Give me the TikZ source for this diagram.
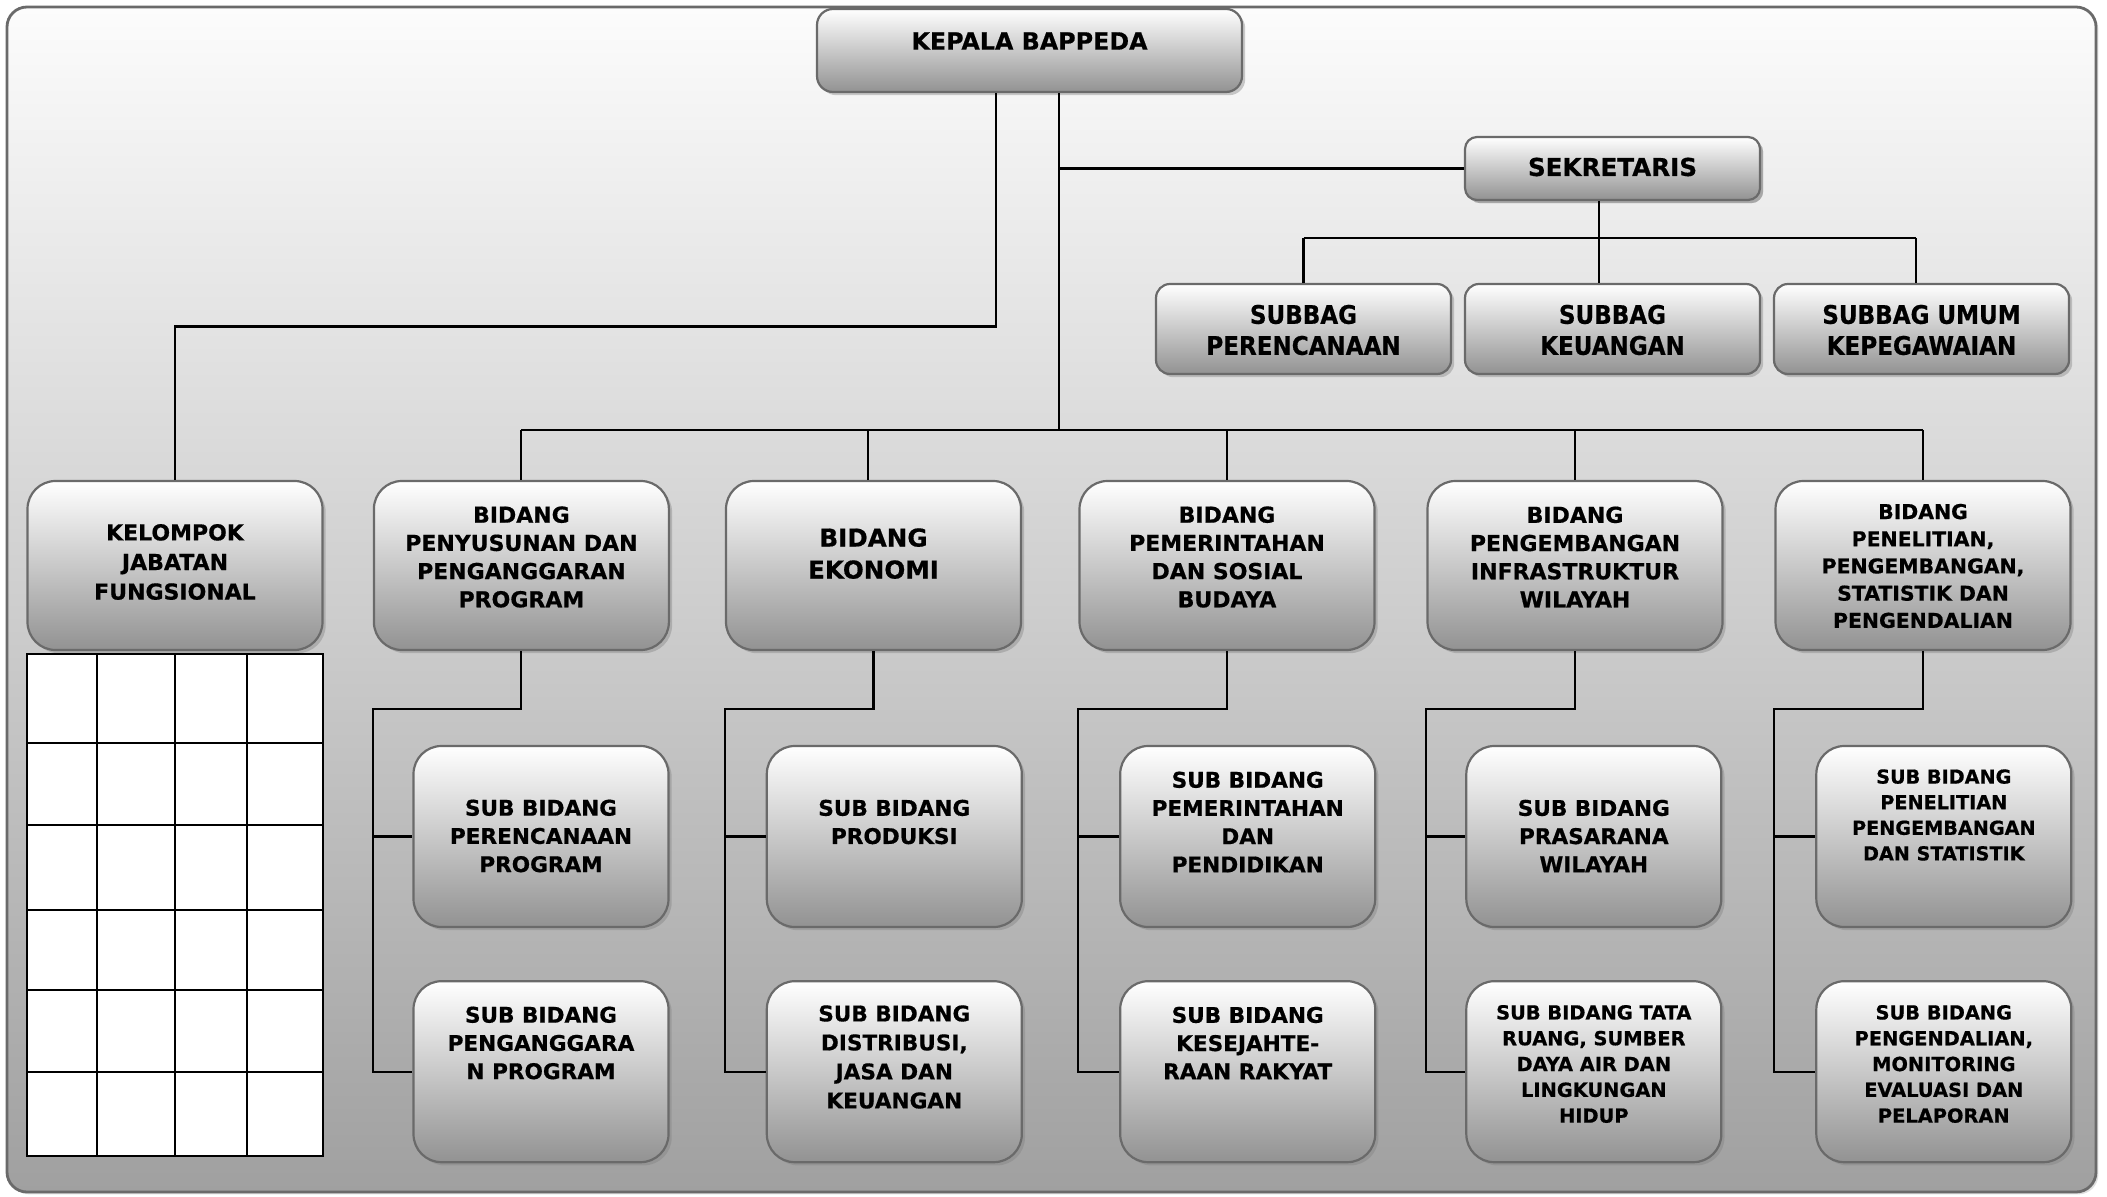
\documentclass[tikz,border=0pt]{standalone}
\usepackage{fontspec}
\setmainfont{DejaVu Sans}[BoldFeatures={FakeBold=0.6}]
\newfontfamily\condfont{DejaVu Sans Condensed}[BoldFeatures={FakeBold=0.6}]
\usetikzlibrary{shadows}
\definecolor{boxbot}{HTML}{929292}
\definecolor{boxedge}{HTML}{6A6A6A}
\definecolor{bgtop}{HTML}{FCFCFC}
\definecolor{bgbot}{HTML}{A0A0A0}
\newcommand\fsz[2]{\fontsize{#1}{#2}\selectfont\bfseries}
\newcommand\cfsz[2]{\condfont\fontsize{#1}{#2}\selectfont\bfseries}
\tikzset{
  obox/.style={rounded corners=#1, draw=boxedge, line width=1.1pt,
    top color=white, bottom color=boxbot, inner sep=0pt,
    drop shadow={shadow xshift=1.6pt, shadow yshift=-1.6pt, opacity=0.4}},
  obox/.default=6pt,
  topbox/.style={obox=8pt},
  bidbox/.style={obox=14pt, minimum width=147.5pt, minimum height=84.5pt},
  subbox/.style={obox=14pt, minimum width=127.5pt, minimum height=90.5pt},
  sbbox/.style={obox=7pt, minimum width=147.5pt, minimum height=45pt},
  txt/.style={align=center, inner sep=0pt, text=black},
  conn/.style={draw=black, line width=1.05pt},
  gridline/.style={draw=black, line width=1.05pt}
}
\begin{document}
\begin{tikzpicture}[x=0.5pt, y=-0.5pt]
\useasboundingbox (0,0) rectangle (2107,1197);
% background panel
\draw[rounded corners=10pt, draw=boxedge, line width=1.4pt, top color=bgtop, bottom color=bgbot,
  drop shadow={shadow xshift=1.2pt, shadow yshift=-1.2pt, opacity=0.25}]
  (7,7) rectangle (2096,1192);

% boxes
\node[topbox, minimum width=212.5pt, minimum height=41.5pt] (kepala) at (1029.5,50.5) {};
\node[topbox, obox=6pt, minimum width=147.5pt, minimum height=31.5pt] (sek) at (1612.5,168.5) {};
\node[sbbox] (sbA) at (1303.5,329) {};
\node[sbbox] (sbB) at (1612.5,329) {};
\node[sbbox] (sbC) at (1921.5,329) {};

\node[bidbox] (kel) at (175,565.5) {};
\node[bidbox] (bid1) at (521.4,565.5) {};
\node[bidbox] (bid2) at (873.5,565.5) {};
\node[bidbox] (bid3) at (1227,565.5) {};
\node[bidbox] (bid4) at (1575,565.5) {};
\node[bidbox] (bid5) at (1923,565.5) {};

\node[subbox] (s11) at (541,836.5) {};
\node[subbox] (s12) at (541,1071.7) {};
\node[subbox] (s21) at (894.3,836.5) {};
\node[subbox] (s22) at (894.3,1071.7) {};
\node[subbox] (s31) at (1247.7,836.5) {};
\node[subbox] (s32) at (1247.7,1071.7) {};
\node[subbox] (s41) at (1593.8,836.5) {};
\node[subbox] (s42) at (1593.8,1071.7) {};
\node[subbox] (s51) at (1943.8,836.5) {};
\node[subbox] (s52) at (1943.8,1071.7) {};

% texts
\node[txt, font=\fsz{11.9pt}{14pt}] (kepala-t) at (1029.5,41) {KEPALA BAPPEDA};
\node[txt, font=\fsz{12.3pt}{15pt}] (sek-t) at (1612.5,167) {SEKRETARIS};
\node[txt, font=\cfsz{12.8pt}{15.5pt}] (sbA-t) at (1303.5,330) {SUBBAG\\PERENCANAAN};
\node[txt, font=\cfsz{12.8pt}{15.5pt}] (sbB-t) at (1612.5,330) {SUBBAG\\KEUANGAN};
\node[txt, font=\cfsz{12.8pt}{15.5pt}] (sbC-t) at (1921.5,330) {SUBBAG UMUM\\KEPEGAWAIAN};

\node[txt, font=\fsz{11pt}{14.8pt}] (kel-t) at (175,562) {KELOMPOK\\JABATAN\\FUNGSIONAL};
\node[txt, font=\fsz{11pt}{14.1pt}] (bid1-t) at (521.4,557) {BIDANG\\PENYUSUNAN DAN\\PENGANGGARAN\\PROGRAM};
\node[txt, font=\fsz{12.3pt}{16pt}] (bid2-t) at (873.5,553.6) {BIDANG\\EKONOMI};
\node[txt, font=\fsz{11pt}{14.1pt}] (bid3-t) at (1227,557) {BIDANG\\PEMERINTAHAN\\DAN SOSIAL\\BUDAYA};
\node[txt, font=\fsz{11pt}{14.1pt}] (bid4-t) at (1575,557) {BIDANG\\PENGEMBANGAN\\INFRASTRUKTUR\\WILAYAH};
\node[txt, font=\fsz{10.2pt}{13.6pt}] (bid5-t) at (1923,566) {BIDANG\\PENELITIAN,\\PENGEMBANGAN,\\STATISTIK DAN\\PENGENDALIAN};

\node[txt, font=\fsz{10.8pt}{14.1pt}] (s11-t) at (541,836) {SUB BIDANG\\PERENCANAAN\\PROGRAM};
\node[txt, font=\fsz{10.8pt}{14.1pt}] (s12-t) at (541,1043) {SUB BIDANG\\PENGANGGARA\\N PROGRAM};
\node[txt, font=\fsz{10.8pt}{14.1pt}] (s21-t) at (894.3,822) {SUB BIDANG\\PRODUKSI};
\node[txt, font=\fsz{10.8pt}{14.5pt}] (s22-t) at (894.3,1057) {SUB BIDANG\\DISTRIBUSI,\\JASA DAN\\KEUANGAN};
\node[txt, font=\fsz{10.8pt}{14.1pt}] (s31-t) at (1247.7,822) {SUB BIDANG\\PEMERINTAHAN\\DAN\\PENDIDIKAN};
\node[txt, font=\fsz{10.8pt}{14.1pt}] (s32-t) at (1247.7,1043) {SUB BIDANG\\KESEJAHTE-\\RAAN RAKYAT};
\node[txt, font=\fsz{10.8pt}{14.1pt}] (s41-t) at (1593.8,836) {SUB BIDANG\\PRASARANA\\WILAYAH};
\node[txt, font=\fsz{9.7pt}{12.9pt}] (s42-t) at (1593.8,1064) {SUB BIDANG TATA\\RUANG, SUMBER\\DAYA AIR DAN\\LINGKUNGAN\\HIDUP};
\node[txt, font=\fsz{9.6pt}{12.8pt}] (s51-t) at (1943.8,815) {SUB BIDANG\\PENELITIAN\\PENGEMBANGAN\\DAN STATISTIK};
\node[txt, font=\fsz{9.7pt}{12.9pt}] (s52-t) at (1943.8,1064) {SUB BIDANG\\PENGENDALIAN,\\MONITORING\\EVALUASI DAN\\PELAPORAN};

% connectors
\coordinate (j1) at (996,326.5);
\coordinate (j2) at (1059,430);
\coordinate (j3) at (1599,238);
\coordinate (dB) at (868,430);
\coordinate (dC) at (1916,238);
\draw[conn] (kepala.south -| j1) -- (j1) -| (kel.north);
\draw[conn] (kepala.south -| j2) -- (j2);
\draw[conn] (sek.west) -- (sek.west -| j2);
\draw[conn] (bid1.north |- j2) -- (bid5.north |- j2);
\foreach \b in {bid1,bid3,bid4,bid5} \draw[conn] (\b.north |- j2) -- (\b.north);
\draw[conn] (dB) -- (bid2.north -| dB);
\draw[conn] (sek.south -| j3) -- (j3);
\draw[conn] (sbA.north |- j3) -- (dC);
\draw[conn] (sbA.north |- j3) -- (sbA.north);
\draw[conn] (j3) -- (sbB.north -| j3);
\draw[conn] (dC) -- (sbC.north -| dC);

\foreach \b/\u/\v in {bid1/s11/s12, bid2/s21/s22, bid3/s31/s32, bid4/s41/s42, bid5/s51/s52}{
  \draw[conn] (\b.south) -- ++(0,58) -| (\b.south west |- \v.west) -- (\v.west);
  \draw[conn] (\b.south west |- \u.west) -- (\u.west);
}

% grid under KELOMPOK JABATAN FUNGSIONAL
\draw[gridline, fill=white] (27,654) rectangle (323,1156);
\foreach \gx in {97,175,247} \draw[gridline] (\gx,654) -- (\gx,1156);
\foreach \gy in {743,825,910,990,1072} \draw[gridline] (27,\gy) -- (323,\gy);
\end{tikzpicture}
\end{document}
